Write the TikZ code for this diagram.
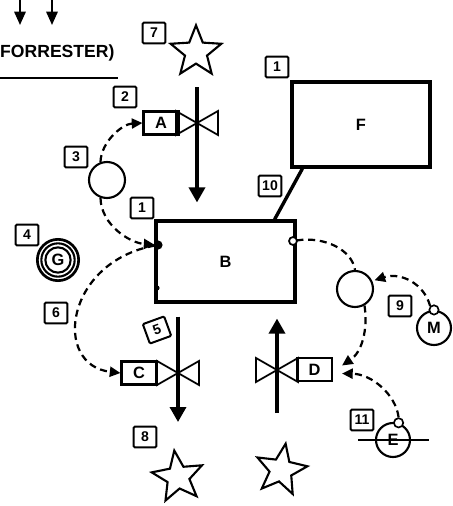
\documentclass[tikz,border=0pt]{standalone}
\usepackage{fontspec}
\setmainfont{Liberation Sans}
\usetikzlibrary{arrows.meta,shapes.geometric}
\tikzset{
  procbox/.style={rectangle, draw, line width=2.7pt, font=\bfseries\fontsize{14}{16}\selectfont},
  ctrlbox/.style={rectangle, draw, line width=1.8pt, minimum width=1.05cm, minimum height=0.69cm,
                  inner sep=1pt, font=\bfseries\fontsize{14}{16}\selectfont},
  numbox/.style={rectangle, draw, line width=1.7pt, rounded corners=1pt, minimum width=0.68cm,
                 minimum height=0.62cm, inner sep=1pt, font=\bfseries\fontsize{12}{14}\selectfont},
  auxcirc/.style={circle, draw, line width=1.8pt, minimum size=1.08cm, inner sep=0pt,
                  font=\bfseries\fontsize{14}{16}\selectfont},
  tapcirc/.style={circle, draw, line width=1.4pt, minimum size=0.28cm, inner sep=0pt, fill=white},
  sinkstar/.style={star, star points=5, star point ratio=2.3, draw, line width=1.8pt,
                   minimum size=1.6cm, inner sep=0pt},
  flow/.style={-{Triangle[length=4.5mm,width=4.8mm]}, line width=2.9pt},
  ctrl/.style={-{Triangle[length=3.2mm,width=3mm]}, line width=1.9pt, dash pattern=on 6pt off 4pt},
  ctrlplain/.style={line width=1.9pt, dash pattern=on 6pt off 4pt},
  link/.style={line width=2.9pt},
  valve/.style={line width=1.5pt},
  toparrow/.style={-{Triangle[length=4mm,width=3.4mm]}, line width=1.8pt},
}
\begin{document}
\begin{tikzpicture}[x=0.03cm, y=-0.03cm]
\useasboundingbox (0,0) rectangle (453,506);

% heading
\foreach \x [count=\i] in {20,52} {
  \coordinate (up\i) at (\x,0);
  \coordinate (dn\i) at (\x,25);
  \draw[toparrow] (up\i) -- (dn\i);
}
\node[anchor=west, inner sep=0pt, font=\bfseries\fontsize{15}{18}\selectfont] (title) at (0,53) {FORRESTER)};
\coordinate (rl) at (0,78);
\coordinate (rr) at (118,78);
\draw[line width=1.4pt] (rl) -- (rr);

% levels
\node[procbox, minimum width=4.17cm, minimum height=2.43cm] (B) at (225.5,261.5) {B};
\node[procbox, minimum width=4.14cm, minimum height=2.55cm] (F) at (361,124.5) {F};

% sources and sinks
\node[sinkstar] (s7) at (196,52) {};
\node[sinkstar, rotate=8] (s8) at (178,477) {};
\node[sinkstar, rotate=-10] (s9) at (281,470) {};

% valves and rate boxes
\foreach \v/\px/\py in {vA/197/123, vC/178/373, vD/277/370} {
  \coordinate (\v) at (\px,\py);
  \draw[valve, fill=white] (\v) -- +(-21,-12) -- +(-21,12) -- cycle
                          (\v) -- +(21,-12) -- +(21,12) -- cycle;
}
\node[ctrlbox] (A) at (161,123) {A};
\node[ctrlbox] (C) at (139,373) {C};
\node[ctrlbox] (D) at (314.5,369.5) {D};

% flows
\coordinate (f1s) at (197,87);
\coordinate (f2e) at (178,422);
\coordinate (f3s) at (277,413);
\draw[flow, shorten >=0.51cm] (f1s) -- (vA |- B.north);
\draw[flow, shorten <=0.39cm] (vC |- B.south) -- (f2e);
\draw[flow, shorten >=0.45cm] (f3s) -- (vD |- B.south);

% auxiliaries and constants
\node[auxcirc] (c1) at (107,180) {};
\node[auxcirc] (c2) at (355,289) {};
\node[circle, draw, line width=1.8pt, minimum size=0.76cm, inner sep=0pt,
      font=\bfseries\fontsize{14}{16}\selectfont] (G) at (58,260) {G};
\draw[line width=1.8pt] (G) circle[radius=0.5cm];
\draw[line width=2.3pt] (G) circle[radius=0.62cm];
\node[auxcirc, minimum size=1.02cm] (M) at (434,328) {M};
\node[tapcirc] (mtap) at (M.north) {};
\coordinate (el) at (358,440);
\coordinate (er) at (429,440);
\node[auxcirc, minimum size=1.02cm] (E) at (393,440) {E};
\draw[line width=1.7pt] (el) -- (er);
\node[tapcirc] (etap) at (E.72) {};

% connectors on B
\coordinate (bl) at (158,245);
\coordinate (bl2) at (157,288);
\coordinate (br) at (293,241);
\draw[line width=1.3pt, fill=black] (bl) circle[radius=3.2pt];
\fill (bl2) circle[radius=2.2pt];
\draw[line width=1.5pt, fill=white] (br) circle[radius=3.4pt];

% information links
\draw[ctrl] (c1.110) .. controls (101,142) and (122,124) .. (A.west);
\draw[ctrl, shorten >=3pt] (c1.250) .. controls (101,225) and (130,243) .. (bl);
\draw[ctrl, shorten <=3pt] (bl) .. controls (65,262) and (52,365) .. (C.west);
\draw[ctrlplain, shorten <=3pt] (br) .. controls (325,236) and (352,250) .. (c2.north);
\draw[ctrl] (c2.300) .. controls (368,330) and (362,352) .. ([shift={(9,-4)}]D.east);
\draw[ctrl, shorten >=2pt] (mtap.north west) .. controls (424,283) and (400,272) .. (c2.25);
\draw[ctrl] (etap.north) .. controls (396,395) and (372,374) .. ([shift={(9,4)}]D.east);
\draw[link] ([xshift=0.36cm]F.south west) -- ([xshift=-0.66cm]B.north east);

% numbers
\node[numbox] (n7) at (154,33) {7};
\node[numbox] (n2) at (125,97) {2};
\node[numbox] (n3) at (76,157) {3};
\node[numbox] (n1a) at (142,208) {1};
\node[numbox] (n1b) at (277,67) {1};
\node[numbox] (n10) at (270,186) {10};
\node[numbox] (n4) at (27,235) {4};
\node[numbox] (n6) at (56,313) {6};
\node[numbox, rotate=20] (n5) at (157,330) {5};
\node[numbox] (n8) at (145,437) {8};
\node[numbox] (n9) at (400,306) {9};
\node[numbox] (n11) at (362,420) {11};
\end{tikzpicture}
\end{document}
